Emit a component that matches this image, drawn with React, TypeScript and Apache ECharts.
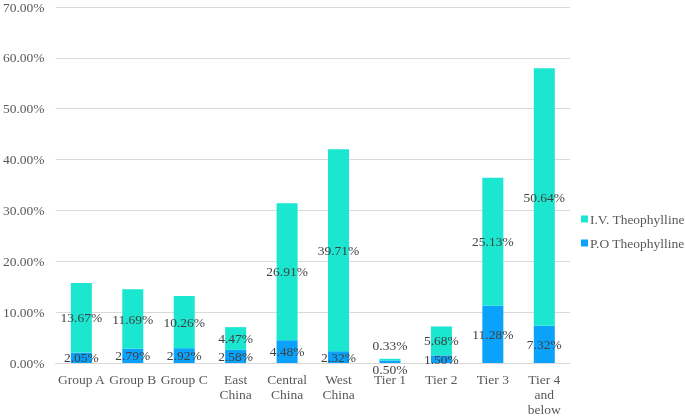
import React, { useEffect, useRef } from "react";
import * as echarts from "echarts";

const categories = [
  "Group A",
  "Group B",
  "Group C",
  "East\nChina",
  "Central\nChina",
  "West\nChina",
  "Tier 1",
  "Tier 2",
  "Tier 3",
  "Tier 4\nand\nbelow",
];
const poValues = [2.05, 2.79, 2.92, 2.58, 4.48, 2.32, 0.5, 1.5, 11.28, 7.32];
const ivValues = [13.67, 11.69, 10.26, 4.47, 26.91, 39.71, 0.33, 5.68, 25.13, 50.64];
const seriesNames = ["I.V. Theophylline", "P.O Theophylline"];

const FONT = "Liberation Serif";
const FS = 13.5;
const IV_COLOR = "#1BE6D0";
const PO_COLOR = "#0AA2FA";

export default function App() {
  const ref = useRef<HTMLDivElement>(null);
  useEffect(() => {
    if (!ref.current) return;
    const chart = echarts.init(ref.current, undefined, { renderer: "svg" });
    const labelStyle = {
      show: true,
      position: "inside",
      color: "#404040",
      fontFamily: FONT,
      fontSize: FS,
      formatter: (p: any) => p.value.toFixed(2) + "%",
    };
    chart.setOption({
      animation: false,
      textStyle: { fontFamily: FONT },
      grid: { left: 52, right: 115, top: 5, bottom: 50, containLabel: false },
      legend: {
        orient: "vertical",
        left: 576,
        top: 207,
        itemWidth: 7,
        itemHeight: 7,
        itemGap: 10,
        icon: "rect",
        data: seriesNames,
        textStyle: { color: "#595959", fontSize: FS, fontFamily: FONT, padding: [0, 0, 0, -3] },
      },
      xAxis: {
        type: "category",
        data: categories,
        axisLine: { show: true, lineStyle: { color: "#d9d9d9", width: 1 } },
        axisTick: { show: false },
        axisLabel: {
          color: "#595959",
          fontSize: FS,
          fontFamily: FONT,
          lineHeight: 15,
          margin: 9,
          interval: 0,
        },
      },
      yAxis: {
        type: "value",
        min: 0,
        max: 70,
        interval: 10,
        axisLine: { show: false },
        axisTick: { show: false },
        splitLine: { lineStyle: { color: "#d9d9d9", width: 1 } },
        axisLabel: {
          color: "#595959",
          fontSize: FS,
          fontFamily: FONT,
          margin: 11,
          formatter: (v: number) => v.toFixed(2) + "%",
        },
      },
      series: [
        {
          name: seriesNames[1],
          type: "bar",
          stack: "total",
          barWidth: 21,
          itemStyle: { color: PO_COLOR },
          label: labelStyle,
          data: poValues.map((v, i) =>
            i === 6 ? { value: v, label: { offset: [0, 8] } } : v
          ),
        },
        {
          name: seriesNames[0],
          type: "bar",
          stack: "total",
          barWidth: 21,
          itemStyle: { color: IV_COLOR },
          label: labelStyle,
          data: ivValues.map((v, i) =>
            i === 6 ? { value: v, label: { offset: [0, -14] } } : v
          ),
        },
      ],
    });
    return () => chart.dispose();
  }, []);
  return (
    <div
      ref={ref}
      style={{ position: "fixed", left: 0, top: 0, width: 685, height: 417 }}
    />
  );
}
